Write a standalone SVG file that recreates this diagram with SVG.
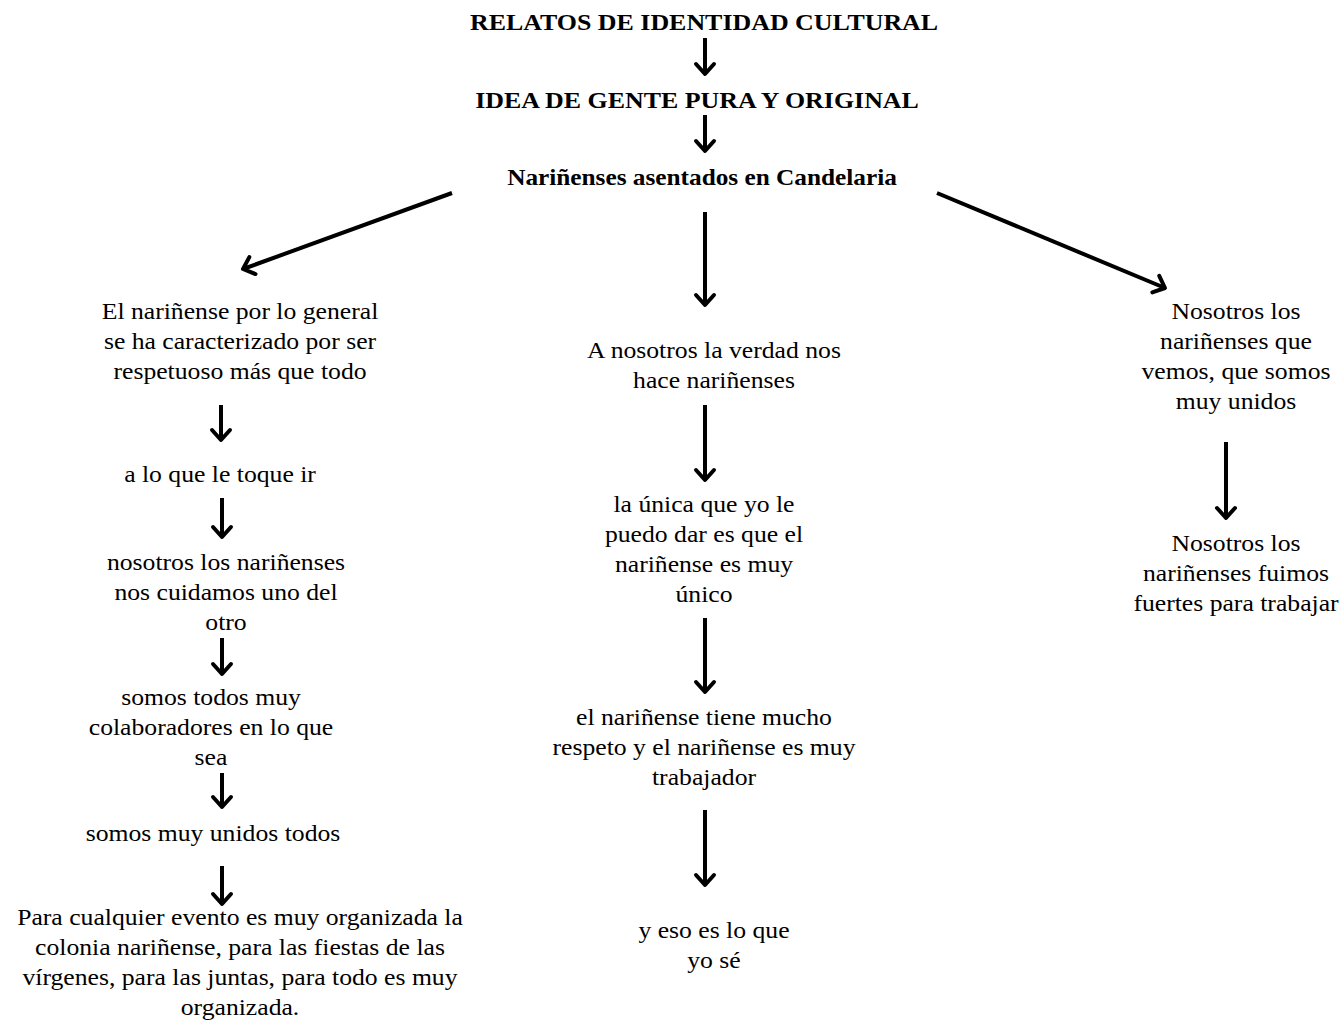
<svg xmlns="http://www.w3.org/2000/svg" width="1344" height="1022" viewBox="0 0 1344 1022">
  <style>
    text { font-family: "Liberation Serif", "Times New Roman", serif; fill: #000; text-anchor: middle; }
    .h { font-weight: bold; font-size: 24px; }
    .h2 { font-weight: bold; font-size: 23px; }
    .t { font-size: 24px; }
    .arrow { stroke: #000; stroke-width: 4; fill: none; marker-end: url(#head); }
  </style>
  <defs>
    <marker id="head" markerUnits="userSpaceOnUse" markerWidth="30" markerHeight="30" viewBox="-15 -15 30 30" refX="0" refY="0" orient="auto">
      <path d="M-10,-9 L0,0 L-10,9" fill="none" stroke="#000" stroke-width="4" stroke-linecap="round" stroke-linejoin="round"/>
    </marker>
  </defs>
  <rect width="1344" height="1022" fill="#fff"/>

  <g id="connectors">
    <line class="arrow" x1="705" y1="38" x2="705" y2="74"/>
    <line class="arrow" x1="705" y1="115" x2="705" y2="151"/>
    <line class="arrow" x1="452" y1="193" x2="243" y2="269"/>
    <line class="arrow" x1="705" y1="212" x2="705" y2="305"/>
    <line class="arrow" x1="937" y1="193" x2="1165" y2="288"/>
    <line class="arrow" x1="221" y1="405" x2="221" y2="440"/>
    <line class="arrow" x1="222" y1="498" x2="222" y2="537"/>
    <line class="arrow" x1="222" y1="638" x2="222" y2="674"/>
    <line class="arrow" x1="222" y1="773" x2="222" y2="807"/>
    <line class="arrow" x1="222" y1="866" x2="222" y2="904"/>
    <line class="arrow" x1="705" y1="405" x2="705" y2="480"/>
    <line class="arrow" x1="705" y1="618" x2="705" y2="692"/>
    <line class="arrow" x1="705" y1="810" x2="705" y2="885"/>
    <line class="arrow" x1="1226" y1="442" x2="1226" y2="518"/>
  </g>

  <!-- each node is centred on its own x and widened slightly -->
  <g id="title" transform="translate(704,0) scale(1.08,1)">
    <text class="h" x="0" y="30">RELATOS DE IDENTIDAD CULTURAL</text>
  </g>
  <g id="idea" transform="translate(697,0) scale(1.08,1)">
    <text class="h" x="0" y="108">IDEA DE GENTE PURA Y ORIGINAL</text>
  </g>
  <g id="narinenses" transform="translate(702,0) scale(1.1,1)">
    <text class="h2" x="0" y="185">Nariñenses asentados en Candelaria</text>
  </g>

  <g id="left-1" transform="translate(240,0) scale(1.07,1)">
    <text class="t" x="0" y="319">El nariñense por lo general</text>
    <text class="t" x="0" y="349">se ha caracterizado por ser</text>
    <text class="t" x="0" y="379">respetuoso más que todo</text>
  </g>
  <g id="left-2" transform="translate(220,0) scale(1.07,1)">
    <text class="t" x="0" y="482">a lo que le toque ir</text>
  </g>
  <g id="left-3" transform="translate(226,0) scale(1.07,1)">
    <text class="t" x="0" y="570">nosotros los nariñenses</text>
    <text class="t" x="0" y="600">nos cuidamos uno del</text>
    <text class="t" x="0" y="630">otro</text>
  </g>
  <g id="left-4" transform="translate(211,0) scale(1.07,1)">
    <text class="t" x="0" y="705">somos todos muy</text>
    <text class="t" x="0" y="735">colaboradores en lo que</text>
    <text class="t" x="0" y="765">sea</text>
  </g>
  <g id="left-5" transform="translate(213,0) scale(1.07,1)">
    <text class="t" x="0" y="841">somos muy unidos todos</text>
  </g>
  <g id="left-6" transform="translate(240,0) scale(1.07,1)">
    <text class="t" x="0" y="925">Para cualquier evento es muy organizada la</text>
    <text class="t" x="0" y="955">colonia nariñense, para las fiestas de las</text>
    <text class="t" x="0" y="985">vírgenes, para las juntas, para todo es muy</text>
    <text class="t" x="0" y="1015">organizada.</text>
  </g>

  <g id="center-1" transform="translate(714,0) scale(1.07,1)">
    <text class="t" x="0" y="358">A nosotros la verdad nos</text>
    <text class="t" x="0" y="388">hace nariñenses</text>
  </g>
  <g id="center-2" transform="translate(704,0) scale(1.07,1)">
    <text class="t" x="0" y="512">la única que yo le</text>
    <text class="t" x="0" y="542">puedo dar es que el</text>
    <text class="t" x="0" y="572">nariñense es muy</text>
    <text class="t" x="0" y="602">único</text>
  </g>
  <g id="center-3" transform="translate(704,0) scale(1.07,1)">
    <text class="t" x="0" y="725">el nariñense tiene mucho</text>
    <text class="t" x="0" y="755">respeto y el nariñense es muy</text>
    <text class="t" x="0" y="785">trabajador</text>
  </g>
  <g id="center-4" transform="translate(714,0) scale(1.07,1)">
    <text class="t" x="0" y="938">y eso es lo que</text>
    <text class="t" x="0" y="968">yo sé</text>
  </g>

  <g id="right-1" transform="translate(1236,0) scale(1.07,1)">
    <text class="t" x="0" y="319">Nosotros los</text>
    <text class="t" x="0" y="349">nariñenses que</text>
    <text class="t" x="0" y="379">vemos, que somos</text>
    <text class="t" x="0" y="409">muy unidos</text>
  </g>
  <g id="right-2" transform="translate(1236,0) scale(1.07,1)">
    <text class="t" x="0" y="551">Nosotros los</text>
    <text class="t" x="0" y="581">nariñenses fuimos</text>
    <text class="t" x="0" y="611">fuertes para trabajar</text>
  </g>
</svg>
